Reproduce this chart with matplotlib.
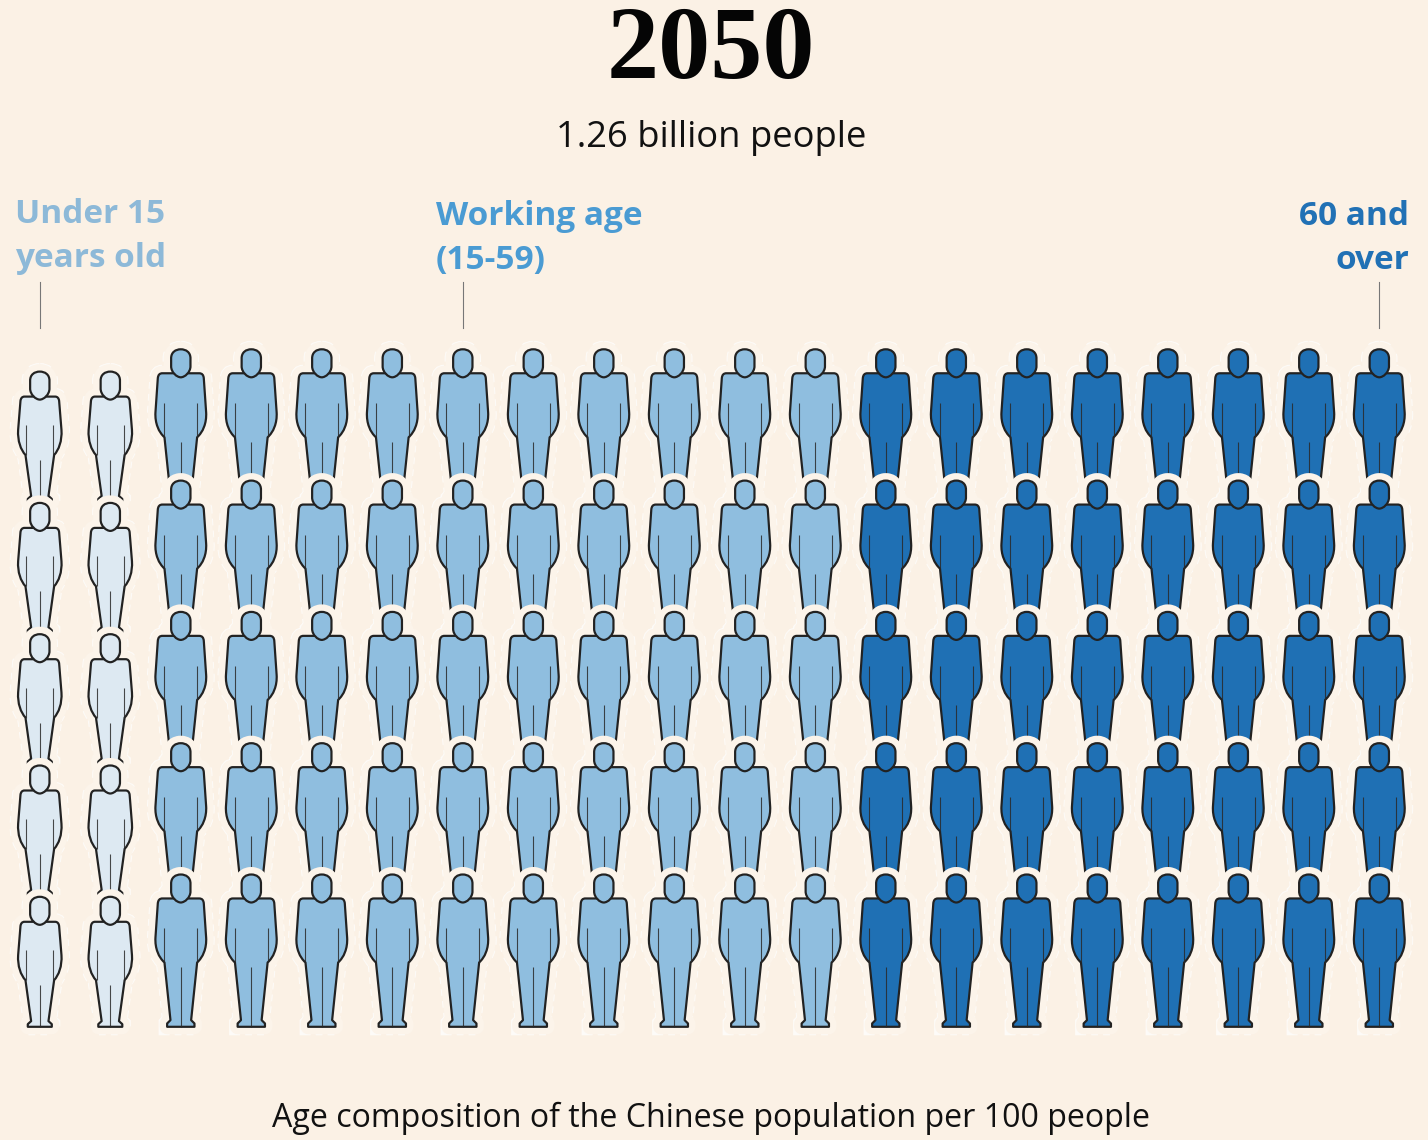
import matplotlib
matplotlib.use("Agg")
import matplotlib.pyplot as plt
from matplotlib.path import Path
from matplotlib.patches import PathPatch
from matplotlib.transforms import Affine2D

# ---- data ----
title = "2050"
subtitle = "1.26 billion people"
caption = "Age composition of the Chinese population per 100 people"
group_names = ["Under 15\nyears old", "Working age\n(15-59)", "60 and\nover"]
group_columns = [2, 10, 8]     # persons = columns x rows
rows = 5
label_columns = [0, 6, 19]
group_colors = ["#DDE9F2", "#8FBEDF", "#1F70B4"]
label_colors = ["#8DB9D8", "#4A9BD3", "#2171B5"]

# ---- layout ----
W, H = 1428, 1140
BG = "#FBF1E5"
COL_PX, ROW_PX = 70.5, 131.3
X0_PX, Y0_PX = 39.8, 501.6
PX = 72 / 100

fig = plt.figure(figsize=(W / 100, H / 100), dpi=100, facecolor=BG)
ax = fig.add_axes([0, 0, 1, 1])
ax.set_xlim(-X0_PX / COL_PX, (W - X0_PX) / COL_PX)
ax.set_ylim((H - Y0_PX) / ROW_PX, -Y0_PX / ROW_PX)
ax.axis("off")

# ---- person glyphs, px, origin at feet centre, y downward ----
M, L, C = Path.MOVETO, Path.LINETO, Path.CURVE4
Z = Path.CLOSEPOLY

def make_body(cx, base, top, seq):
    """Mirror-symmetric body from its right-hand profile, traced at 3x zoom."""
    z = lambda x, y: ((x - cx) / 3, (y - base) / 3)
    pts = [z(x, y) for _, (x, y) in seq]
    cds = [c for c, _ in seq]
    verts = [z(cx, top)] + pts
    codes = [M] + cds
    mir = [(-p[0], p[1]) for p in pts][::-1]
    verts += mir
    codes += [L] + cds[::-1][:-1]
    verts += [z(cx, top), z(cx, top)]
    codes += [L, Z]
    return Path(verts, codes)

def make_inner(cx, base, arm_dx, arm_top, arm_bot, mid_top):
    z = lambda x, y: ((x - cx) / 3, (y - base) / 3)
    return Path([z(cx - arm_dx, arm_top), z(cx - arm_dx, arm_bot),
                 z(cx + arm_dx, arm_top), z(cx + arm_dx, arm_bot),
                 z(cx, mid_top), z(cx, base)], [M, L, M, L, M, L])

BODY_BIG = make_body(106, 500, 115, [
    (L, (161, 115)), (C, (170, 115)), (C, (174, 120)), (C, (175, 130)),
    (L, (182, 232)), (C, (184, 265)), (C, (172, 292)), (C, (155, 307)),
    (L, (137, 480)), (L, (147, 490)), (L, (147, 500))])
BODY_SMALL = make_body(119, 440, 125, [
    (L, (165, 125)), (C, (172, 125)), (C, (176, 130)), (C, (177, 138)),
    (L, (184, 225)), (C, (186, 258)), (C, (176, 285)), (C, (162, 300)),
    (L, (145, 423)), (L, (155, 432)), (L, (155, 440))])
INNER_BIG = make_inner(106, 500, 49, 205, 307, 322)
INNER_SMALL = make_inner(119, 440, 41, 210, 300, 315)

def make_head(bottom):
    """Same head on every figure, bottom given in px above the feet."""
    w, h = 9.67, 28.0
    b = -bottom
    t = b - h
    return Path([(0, t), (5.3, t), (w, t + 3), (w, t + 9),
                 (w, t + 17), (w, t + 23), (4, b), (0, b),
                 (-4, b), (-w, t + 23), (-w, t + 17),
                 (-w, t + 9), (-w, t + 3), (-5.3, t), (0, t), (0, t)],
                [M, C, C, C, L, C, C, C, C, C, C, L, C, C, C, Z])

HEAD_BIG = make_head(124.3)
HEAD_SMALL = make_head(102.0)

glyphs = [(BODY_SMALL, HEAD_SMALL, INNER_SMALL),
          (BODY_BIG, HEAD_BIG, INNER_BIG),
          (BODY_BIG, HEAD_BIG, INNER_BIG)]

# ---- draw ----
people = []
col = 0
for g, n in enumerate(group_columns):
    for _ in range(n):
        people.append((col, g))
        col += 1

def tf(c, r):
    return Affine2D().scale(1 / COL_PX, 1 / ROW_PX).translate(c, r) + ax.transData

# dashed outer ring, behind everything
for r in range(rows):
    for c, g in people:
        for p in glyphs[g][:2]:
            ax.add_patch(PathPatch(p, transform=tf(c, r), fill=False, ec="#FFFFFF", alpha=0.75,
                                   lw=17.0 * PX, ls=(0, (0.4, 0.3)), zorder=1))

# figures, top row first so each halo bites into the feet above
z_i = 3
for r in range(rows):
    for c, g in people:
        t = tf(c, r)
        for p in glyphs[g][:2]:
            ax.add_patch(PathPatch(p, transform=t, fc="#FCF4EA", ec="#FCF4EA",
                                   lw=15 * PX, joinstyle="round", zorder=z_i))
    z_i += 1
    for c, g in people:
        t = tf(c, r)
        body, head, inner = glyphs[g]
        ax.add_patch(PathPatch(body, transform=t, fc=group_colors[g], ec="#222222",
                               lw=2.2 * PX, joinstyle="round", zorder=z_i))
        ax.add_patch(PathPatch(inner, transform=t, fill=False, ec="#2A2A2A",
                               lw=1.1 * PX, alpha=0.85, zorder=z_i))
        ax.add_patch(PathPatch(head, transform=t, fc=group_colors[g], ec="#222222",
                               lw=2.2 * PX, joinstyle="round", zorder=z_i))
    z_i += 1

# ---- text ----
def fx(x): return x / W
def fy(y): return 1 - y / H

fig.text(fx(711), fy(78), title, ha="center", va="baseline", family="Liberation Serif",
         weight="bold", fontsize=75, color="#050505")
fig.text(fx(711), fy(147), subtitle, ha="center", va="baseline", family="Open Sans",
         fontsize=26.2, color="#111111")
fig.text(fx(711), fy(1127), caption, ha="center", va="baseline", family="Open Sans",
         fontsize=23.15, color="#111111")

label_x = [(15, "left", 223, 267), (436, "left", 225, 269), (1409, "right", 225, 269)]
for name, colr, (x, ha, y1, y2) in zip(group_names, label_colors, label_x):
    a, b = name.split("\n")
    fig.text(fx(x), fy(y1), a, ha=ha, va="baseline", family="Open Sans", weight="bold",
             fontsize=24, color=colr)
    fig.text(fx(x), fy(y2), b, ha=ha, va="baseline", family="Open Sans", weight="bold",
             fontsize=24, color=colr)

for c in label_columns:
    ax.plot([c, c], [(282 - Y0_PX) / ROW_PX, (328 - Y0_PX) / ROW_PX], color="#777777", lw=1.1 * PX, zorder=1)

fig.savefig("out.png", dpi=100, facecolor=BG)
